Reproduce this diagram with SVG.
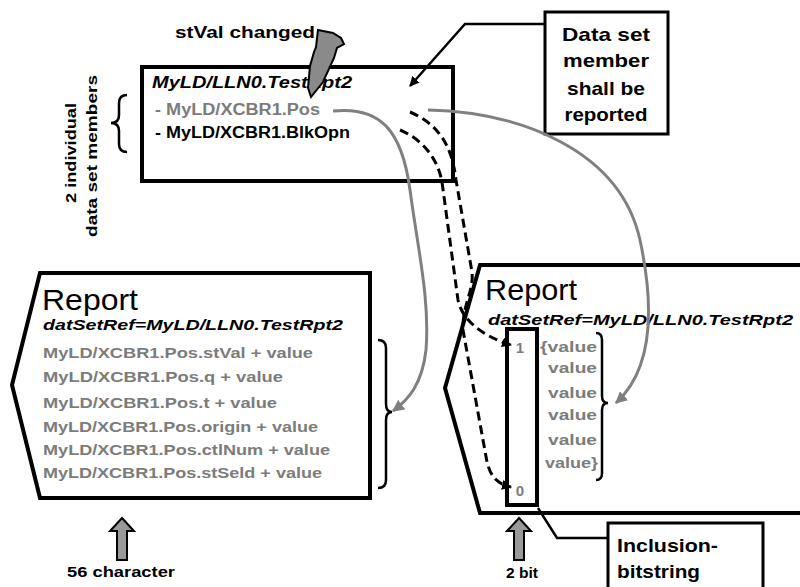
<svg xmlns="http://www.w3.org/2000/svg" width="800" height="587" viewBox="0 0 800 587">
<style>
.t{font-family:"Liberation Sans",Arial,sans-serif;font-weight:bold;fill:#000}
.i{font-style:italic}
.g{fill:#7c7c7c}
.n{font-weight:normal}
.box{fill:#fff;stroke:#000;stroke-width:4}
.br{fill:none;stroke:#000;stroke-width:2.5}
.cg{fill:none;stroke:#808080;stroke-width:3}
.cd{fill:none;stroke:#000;stroke-width:3;stroke-dasharray:9 5}
.cs{fill:none;stroke:#000;stroke-width:2.5}
.up{fill:#999;stroke:#000;stroke-width:2}
</style>
<defs>
<marker id="ab" viewBox="0 0 10 10" refX="9" refY="5" markerWidth="10" markerHeight="10" markerUnits="userSpaceOnUse" orient="auto"><path d="M0,0 L10,5 L0,10 Z" fill="#000"/></marker>
<marker id="ag" viewBox="0 0 10 10" refX="9" refY="5" markerWidth="12" markerHeight="12" markerUnits="userSpaceOnUse" orient="auto"><path d="M0,0 L10,5 L0,10 Z" fill="#808080"/></marker>
</defs>

<g id="dataset-box">
<rect class="box" x="142" y="67" width="311" height="114"/>
<text class="t i" x="152" y="88" font-size="16" textLength="200" lengthAdjust="spacingAndGlyphs">MyLD/LLN0.TestRpt2</text>
<text class="t g" x="155" y="115" font-size="16" textLength="165" lengthAdjust="spacingAndGlyphs">- MyLD/XCBR1.Pos</text>
<text class="t" x="155" y="138" font-size="16" textLength="195" lengthAdjust="spacingAndGlyphs">- MyLD/XCBR1.BlkOpn</text>
</g>

<g id="stval-changed">
<text class="t" x="175" y="38" font-size="16" textLength="140" lengthAdjust="spacingAndGlyphs">stVal changed</text>
<polygon points="318,30 333,33 341,38 344,44 337,48 334,58 323,82 311,97 308,88 310,66 314,52 316,47" fill="#8a8a8a" stroke="#000" stroke-width="2"/>
</g>

<g id="members-label">
<path class="br" d="M127,95 Q119,95 119,103 V115 Q119,123 111,123 Q119,123 119,131 V144 Q119,152 127,152"/>
<text class="t" transform="translate(76,153) rotate(-90)" text-anchor="middle" font-size="14" textLength="100" lengthAdjust="spacingAndGlyphs">2 individual</text>
<text class="t" transform="translate(97,156) rotate(-90)" text-anchor="middle" font-size="14" textLength="162" lengthAdjust="spacingAndGlyphs">data set members</text>
</g>

<g id="callout-member">
<rect x="545" y="12" width="123" height="122" fill="#fff" stroke="#000" stroke-width="3"/>
<text class="t" x="606" y="41" font-size="19" text-anchor="middle" textLength="88" lengthAdjust="spacingAndGlyphs">Data set</text>
<text class="t" x="606" y="67" font-size="19" text-anchor="middle" textLength="86" lengthAdjust="spacingAndGlyphs">member</text>
<text class="t" x="606" y="95" font-size="19" text-anchor="middle" textLength="78" lengthAdjust="spacingAndGlyphs">shall be</text>
<text class="t" x="606" y="121" font-size="19" text-anchor="middle" textLength="83" lengthAdjust="spacingAndGlyphs">reported</text>
</g>

<g id="report-left">
<polygon class="box" points="40,273 370,273 370,498 40,498 12,385"/>
<text class="t n" x="42" y="310" font-size="30" textLength="96" lengthAdjust="spacingAndGlyphs">Report</text>
<text class="t i" x="43" y="330" font-size="15" textLength="300" lengthAdjust="spacingAndGlyphs">datSetRef=MyLD/LLN0.TestRpt2</text>
<text class="t g" x="43" y="358" font-size="15" textLength="270" lengthAdjust="spacingAndGlyphs">MyLD/XCBR1.Pos.stVal + value</text>
<text class="t g" x="43" y="382" font-size="15" textLength="240" lengthAdjust="spacingAndGlyphs">MyLD/XCBR1.Pos.q + value</text>
<text class="t g" x="43" y="408" font-size="15" textLength="234" lengthAdjust="spacingAndGlyphs">MyLD/XCBR1.Pos.t + value</text>
<text class="t g" x="43" y="432" font-size="15" textLength="275" lengthAdjust="spacingAndGlyphs">MyLD/XCBR1.Pos.origin + value</text>
<text class="t g" x="43" y="455" font-size="15" textLength="287" lengthAdjust="spacingAndGlyphs">MyLD/XCBR1.Pos.ctlNum + value</text>
<text class="t g" x="43" y="478" font-size="15" textLength="279" lengthAdjust="spacingAndGlyphs">MyLD/XCBR1.Pos.stSeld + value</text>
<path class="br" d="M378,340 Q386,340 386,348 V404 Q386,412 392,412 Q386,412 386,420 V480 Q386,488 378,488"/>
</g>

<g id="report-right">
<polygon class="box" points="480,265 810,265 810,513 480,513 445,388"/>
<text class="t n" x="485" y="300" font-size="30" textLength="92" lengthAdjust="spacingAndGlyphs">Report</text>
<text class="t i" x="488" y="325" font-size="15" textLength="305" lengthAdjust="spacingAndGlyphs">datSetRef=MyLD/LLN0.TestRpt2</text>
<rect x="507" y="329" width="30" height="176" fill="none" stroke="#000" stroke-width="4"/>
<text class="t g" x="520" y="353" font-size="15" text-anchor="middle">1</text>
<text class="t g" x="520" y="496" font-size="15" text-anchor="middle">0</text>
<text class="t g" x="540" y="352" font-size="15" textLength="57" lengthAdjust="spacingAndGlyphs">{value</text>
<text class="t g" x="548" y="373" font-size="15" textLength="49" lengthAdjust="spacingAndGlyphs">value</text>
<text class="t g" x="548" y="398" font-size="15" textLength="49" lengthAdjust="spacingAndGlyphs">value</text>
<text class="t g" x="548" y="420" font-size="15" textLength="49" lengthAdjust="spacingAndGlyphs">value</text>
<text class="t g" x="548" y="445" font-size="15" textLength="49" lengthAdjust="spacingAndGlyphs">value</text>
<text class="t g" x="545" y="468" font-size="15" textLength="53" lengthAdjust="spacingAndGlyphs">value}</text>
<path class="br" d="M596,333 Q602,333 602,340 V396 Q602,403 608,403 Q602,403 602,410 V473 Q602,480 596,480"/>
</g>

<g id="size-56">
<polygon class="up" points="122,518 134,531 127,531 127,560 117,560 117,531 110,531"/>
<text class="t" x="121" y="577" font-size="14" text-anchor="middle" textLength="108" lengthAdjust="spacingAndGlyphs">56 character</text>
</g>

<g id="size-2bit">
<polygon class="up" points="519,518 531,531 524,531 524,560 514,560 514,531 507,531"/>
<text class="t" x="522" y="578" font-size="14" text-anchor="middle" textLength="32" lengthAdjust="spacingAndGlyphs">2 bit</text>
</g>

<g id="callout-inclusion">
<rect x="608" y="523" width="155" height="80" fill="#fff" stroke="#000" stroke-width="3"/>
<text class="t" x="617" y="552" font-size="19" textLength="101" lengthAdjust="spacingAndGlyphs">Inclusion-</text>
<text class="t" x="617" y="578" font-size="19" textLength="83" lengthAdjust="spacingAndGlyphs">bitstring</text>
</g>

<g id="connectors">
<path class="cs" d="M545,24 H465 L410,86" marker-end="url(#ab)"/>
<path class="cs" d="M608,538 H557 L538,508"/>
<path class="cg" d="M333,111 C380,106 402,130 410,190 C418,250 430,300 426,350 C422,385 408,400 393,411" marker-end="url(#ag)"/>
<path class="cg" d="M428,110 C520,112 620,150 640,240 C655,310 652,370 616,403" marker-end="url(#ag)"/>
<path class="cd" d="M410,112 C438,124 452,145 456,180 L472,272 C474,292 462,305 463,330 L487,462 C491,478 498,484 511,487" marker-end="url(#ab)"/>
<path class="cd" d="M400,130 C424,140 438,160 442,182 L458,300 C462,320 482,336 511,345" marker-end="url(#ab)"/>
</g>
</svg>
